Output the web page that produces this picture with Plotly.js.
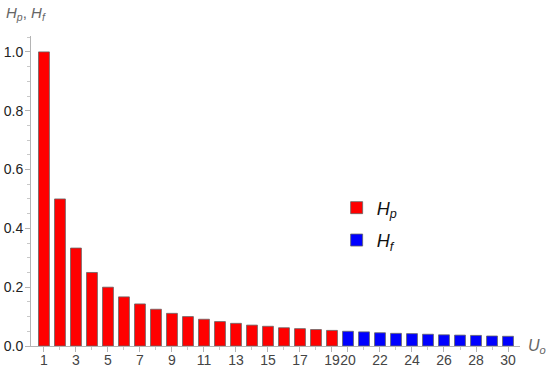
<!DOCTYPE html>
<html><head><meta charset="utf-8">
<script src="https://cdn.plot.ly/plotly-3.0.1.min.js"></script>
<style>html,body{margin:0;padding:0;background:#fff}#c{width:550px;height:369px}</style>
</head><body><div id="c"></div>
<script>
var xP = [1,2,3,4,5,6,7,8,9,10,11,12,13,14,15,16,17,18,19];
var yP = [1.0,0.5,0.333,0.25,0.2,0.167,0.143,0.125,0.111,0.1,0.091,0.083,0.077,0.071,0.067,0.062,0.059,0.056,0.053];
var xF = [20,21,22,23,24,25,26,27,28,29,30];
var yF = [0.05,0.048,0.045,0.043,0.042,0.04,0.038,0.037,0.036,0.034,0.033];
var xTickVals = [1,3,5,7,9,11,13,15,17,19,20,22,24,26,28,30];
var xTickText = ["1","3","5","7","9","11","13","15","17","19","20","22","24","26","28","30"];
var yTickVals = [0,0.2,0.4,0.6,0.8,1.0];
var yTickText = ["0.0","0.2","0.4","0.6","0.8","1.0"];

var traces = [
  {type:'bar', x:xP, y:yP, name:'<i>H</i><sub><i>p</i></sub>', legendgroup:'a',
   marker:{color:'#ff0000', line:{color:'#666666', width:0.8}}},
  {type:'bar', x:xF, y:yF, name:'<i>H</i><sub><i>f</i></sub>', legendgroup:'b',
   marker:{color:'#0000ff', line:{color:'#666666', width:0.8}}}
];
var layout = {
  width:550, height:369,
  margin:{l:31, r:30, t:36, b:23},
  paper_bgcolor:'#fff', plot_bgcolor:'#fff',
  barmode:'overlay', bargap:0.32,
  showlegend:true,
  legend:{x:0.625, y:0.505, xanchor:'left', yanchor:'top', bgcolor:'rgba(0,0,0,0)',
          font:{family:'Liberation Sans, Arial, sans-serif', size:18, color:'#111'},
          tracegroupgap:6, itemwidth:30},
  font:{family:'Liberation Sans, Arial, sans-serif'},
  xaxis:{range:[0.19,30.75], showgrid:false, zeroline:false, automargin:false,
         showline:true, linecolor:'#b4b4b4', linewidth:1,
         tickmode:'array', tickvals:xTickVals, ticktext:xTickText, tickangle:0,
         ticks:'outside', ticklen:5, tickcolor:'#b4b4b4', tickwidth:1,
         ticklabelstandoff:-4,
         tickfont:{size:14, color:'#444'},
         minor:{tickmode:'linear', tick0:0, dtick:1, ticks:'outside', ticklen:3, tickcolor:'#c8c8c8', showgrid:false}},
  yaxis:{range:[0,1.054], showgrid:false, zeroline:false, automargin:false,
         showline:true, linecolor:'#b4b4b4', linewidth:1,
         tickmode:'array', tickvals:yTickVals, ticktext:yTickText,
         ticks:'outside', ticklen:5, tickcolor:'#b4b4b4', tickwidth:1,
         ticklabelstandoff:-1,
         tickfont:{size:14, color:'#222'},
         minor:{tickmode:'linear', tick0:0, dtick:0.05, ticks:'outside', ticklen:3, tickcolor:'#c8c8c8', showgrid:false}},
  annotations:[
    {xref:'paper', yref:'paper', x:1.012, y:0, xanchor:'left', yanchor:'middle',
     text:'<i>U</i><sub><i>o</i></sub>', showarrow:false,
     font:{family:'Liberation Sans, Arial, sans-serif', size:16, color:'#666'}},
    {xref:'paper', yref:'paper', x:-0.055, y:1.074, xanchor:'left', yanchor:'middle',
     text:'<i>H</i><sub><i>p</i></sub>, <i>H</i><sub><i>f</i></sub>', showarrow:false,
     font:{family:'Liberation Sans, Arial, sans-serif', size:15, color:'#666'}}
  ]
};
Plotly.newPlot('c', traces, layout, {displayModeBar:false, staticPlot:true});
</script>
</body></html>
